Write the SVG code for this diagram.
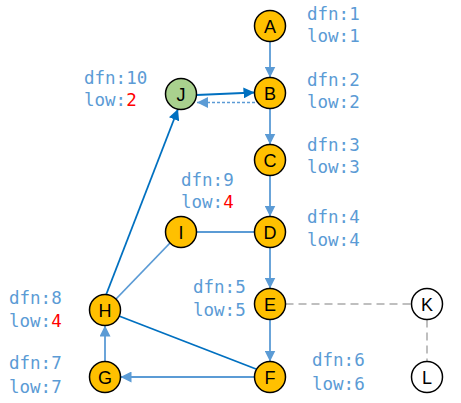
<svg xmlns="http://www.w3.org/2000/svg" width="461" height="403" viewBox="0 0 461 403">
<style>
.n{stroke:#000;stroke-width:1.5}
.o{fill:#ffc000}
.w{fill:#fff}
.g{fill:#a9d18e}
.lt{font-family:"Liberation Sans","Open Sans",sans-serif;font-size:18px;text-anchor:middle;fill:#000}
.lb{font-family:"DejaVu Sans Mono","Liberation Mono",monospace;font-size:17.5px;fill:#5b9bd5}
.r{fill:#ff0000}
.e1{stroke:#5b9bd5;stroke-width:1.8;fill:none}
.e2{stroke:#0070c0;stroke-width:1.8;fill:none}
.dd{stroke:#5b9bd5;stroke-width:1.6;stroke-dasharray:3,2;fill:none}
.gr{stroke:#bfbfbf;stroke-width:2;stroke-dasharray:8,5;fill:none}
</style>
<defs>
<marker id="m1" markerUnits="userSpaceOnUse" markerWidth="12" markerHeight="11" refX="11" refY="5.5" orient="auto"><path d="M0,0 L11,5.5 L0,11 z" fill="#5b9bd5"/></marker>
<marker id="m2" markerUnits="userSpaceOnUse" markerWidth="12" markerHeight="11" refX="11" refY="5.5" orient="auto"><path d="M0,0 L11,5.5 L0,11 z" fill="#0070c0"/></marker>
</defs>
<rect width="461" height="403" fill="#fff"/>
<g id="connectors">
<line class="e1" x1="270" y1="41.5" x2="270" y2="77.5" marker-end="url(#m1)"/>
<line class="e1" x1="270" y1="108.5" x2="270" y2="144.5" marker-end="url(#m1)"/>
<line class="e1" x1="270" y1="175.5" x2="270" y2="216.5" marker-end="url(#m1)"/>
<line class="e1" x1="270" y1="247.5" x2="270" y2="288.5" marker-end="url(#m1)"/>
<line class="e1" x1="270" y1="319.5" x2="270" y2="361.5" marker-end="url(#m1)"/>
<line class="e1" x1="254.5" y1="377" x2="120.5" y2="377" marker-end="url(#m1)"/>
<line class="e1" x1="105" y1="361.5" x2="105" y2="325.5" marker-end="url(#m1)"/>
<line class="e1" x1="196.5" y1="232" x2="254.5" y2="232"/>
<line class="e1" x1="116" y1="299" x2="170" y2="243"/>
<line class="e2" x1="119" y1="316" x2="256" y2="369"/>
<line class="e2" x1="106" y1="295" x2="178" y2="109" marker-end="url(#m2)"/>
<line class="e2" x1="196.5" y1="95" x2="254.5" y2="92.5" marker-end="url(#m2)"/>
<line class="dd" x1="255" y1="102.5" x2="197" y2="102.5" marker-end="url(#m1)"/>
<line class="gr" x1="285.5" y1="304" x2="411.5" y2="304"/>
<line class="gr" x1="427" y1="319.5" x2="427" y2="361.5"/>
</g>
<g id="A"><circle class="n o" cx="270" cy="26" r="15.5"/><text class="lt" x="270" y="32.5">A</text></g>
<g id="B"><circle class="n o" cx="270" cy="93" r="15.5"/><text class="lt" x="270" y="99.5">B</text></g>
<g id="C"><circle class="n o" cx="270" cy="160" r="15.5"/><text class="lt" x="270" y="166.5">C</text></g>
<g id="D"><circle class="n o" cx="270" cy="232" r="15.5"/><text class="lt" x="270" y="238.5">D</text></g>
<g id="E"><circle class="n o" cx="270" cy="304" r="15.5"/><text class="lt" x="270" y="310.5">E</text></g>
<g id="F"><circle class="n o" cx="270" cy="377" r="15.5"/><text class="lt" x="270" y="383.5">F</text></g>
<g id="G"><circle class="n o" cx="105" cy="377" r="15.5"/><text class="lt" x="105" y="383.5">G</text></g>
<g id="H"><circle class="n o" cx="105" cy="310" r="15.5"/><text class="lt" x="105" y="316.5">H</text></g>
<g id="I"><circle class="n o" cx="181" cy="232" r="15.5"/><text class="lt" x="181" y="238.5">I</text></g>
<g id="J"><circle class="n g" cx="181" cy="94" r="15.5"/><text class="lt" x="181" y="100.5">J</text></g>
<g id="K"><circle class="n w" cx="427" cy="304" r="15.5"/><text class="lt" x="427" y="310.5">K</text></g>
<g id="L"><circle class="n w" cx="427" cy="377" r="15.5"/><text class="lt" x="427" y="383.5">L</text></g>
<g id="labels">
<text class="lb" x="307" y="20">dfn:1</text><text class="lb" x="307" y="42">low:1</text>
<text class="lb" x="307" y="86">dfn:2</text><text class="lb" x="307" y="108">low:2</text>
<text class="lb" x="307" y="151">dfn:3</text><text class="lb" x="307" y="173">low:3</text>
<text class="lb" x="307" y="223">dfn:4</text><text class="lb" x="307" y="246">low:4</text>
<text class="lb" x="193" y="293">dfn:5</text><text class="lb" x="193" y="316">low:5</text>
<text class="lb" x="312" y="366">dfn:6</text><text class="lb" x="312" y="390">low:6</text>
<text class="lb" x="9" y="369">dfn:7</text><text class="lb" x="9" y="393">low:7</text>
<text class="lb" x="9" y="304">dfn:8</text><text class="lb" x="9" y="327">low:<tspan class="r">4</tspan></text>
<text class="lb" x="181" y="186">dfn:9</text><text class="lb" x="181" y="208">low:<tspan class="r">4</tspan></text>
<text class="lb" x="84" y="84">dfn:10</text><text class="lb" x="84" y="106">low:<tspan class="r">2</tspan></text>
</g>
</svg>
